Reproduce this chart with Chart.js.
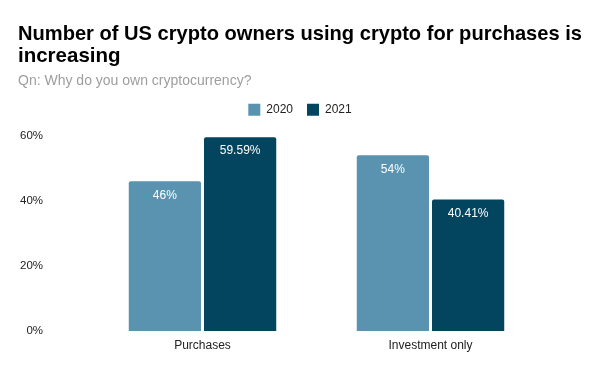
<!DOCTYPE html>
<html><head><meta charset="utf-8">
<script src="https://cdn.jsdelivr.net/npm/chart.js@4"></script>
<style>html,body{margin:0;padding:0;background:#fff}#wrap{width:600px;height:371px}</style>
</head><body><div id="wrap"><canvas id="c" width="600" height="371"></canvas></div>
<script>
const categories = ["Purchases", "Investment only"];
const series2020 = [46, 54];
const series2021 = [59.59, 40.41];
const labels2020 = ["46%", "54%"];
const labels2021 = ["59.59%", "40.41%"];
const yTicks = [0, 20, 40, 60];
const seriesNames = ["2020", "2021"];

const FONT = '"Liberation Sans", Arial, sans-serif';

const labelPlugin = {
  id: 'barLabels',
  afterDatasetsDraw(chart) {
    const ctx = chart.ctx;
    const texts = [labels2020, labels2021];
    ctx.save();
    ctx.font = '12px ' + FONT;
    ctx.fillStyle = '#ffffff';
    ctx.textAlign = 'center';
    ctx.textBaseline = 'middle';
    chart.data.datasets.forEach((ds, i) => {
      chart.getDatasetMeta(i).data.forEach((bar, j) => {
        ctx.fillText(texts[i][j], bar.x, bar.y + 14);
      });
    });
    ctx.restore();
  }
};

const legendAdjust = {
  id: 'legendAdjust',
  beforeLayout(chart) {
    const lg = chart.legend;
    if (lg && !lg._patched) {
      const f = lg.fit;
      lg.fit = function () { f.call(this); this.height += 10; };
      lg._patched = true;
    }
  }
};

new Chart(document.getElementById('c'), {
  type: 'bar',
  data: {
    labels: categories,
    datasets: [
      { label: seriesNames[0], data: series2020, backgroundColor: '#5a93b0', borderRadius: {topLeft: 2, topRight: 2}, borderSkipped: 'bottom', barPercentage: 0.96, categoryPercentage: 0.66 },
      { label: seriesNames[1], data: series2021, backgroundColor: '#03455f', borderRadius: {topLeft: 2, topRight: 2}, borderSkipped: 'bottom', barPercentage: 0.96, categoryPercentage: 0.66 }
    ]
  },
  plugins: [labelPlugin, legendAdjust],
  options: {
    responsive: false,
    animation: false,
    layout: { padding: { left: 18, right: 18, top: 0, bottom: 0 } },
    plugins: {
      title: {
        display: true, align: 'start',
        text: ['Number of US crypto owners using crypto for purchases is', 'increasing'],
        color: '#000', font: { family: FONT, size: 20.5, weight: 'bold', lineHeight: 22 / 20.5 },
        padding: { top: 23, bottom: 6 }
      },
      subtitle: {
        display: true, align: 'start',
        text: 'Qn: Why do you own cryptocurrency?',
        color: '#9e9e9e', font: { family: FONT, size: 14 },
        padding: { top: 0, bottom: 0 }
      },
      legend: {
        display: true, position: 'top',
        labels: { boxWidth: 12, boxHeight: 12, color: '#222', font: { family: FONT, size: 12 }, padding: 14 }
      },
      tooltip: { enabled: false }
    },
    scales: {
      x: {
        grid: { display: false, drawTicks: false }, border: { display: false },
        afterFit(axis) { axis.height = 40; },
        ticks: { color: '#222', font: { family: FONT, size: 12 }, padding: 7 }
      },
      y: {
        min: 0, max: 60,
        grid: { display: false, drawTicks: false }, border: { display: false },
        afterFit(axis) { axis.width = 70.5; axis.paddingTop = 0; axis.paddingBottom = 0; },
        afterBuildTicks(axis) { axis.ticks = yTicks.map(v => ({ value: v })); },
        ticks: { color: '#222', font: { family: FONT, size: 11.5 }, padding: 45.5, callback: v => v + '%' }
      },
      yRight: {
        position: 'right', display: true,
        grid: { display: false, drawTicks: false }, border: { display: false },
        ticks: { display: false },
        afterFit(axis) { axis.width = 37.5; axis.paddingTop = 0; axis.paddingBottom = 0; }
      }
    }
  }
});
</script></body></html>
